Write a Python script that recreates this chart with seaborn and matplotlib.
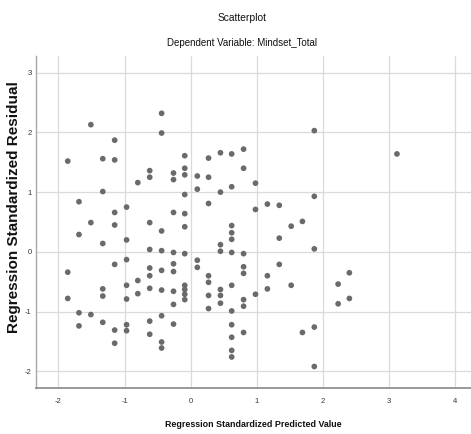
import numpy as np
import pandas as pd
import matplotlib
matplotlib.use("Agg")
import matplotlib.pyplot as plt
import seaborn as sns

# predicted value columns and the residuals
pred_cols = [-1.86, -1.69, -1.51, -1.33, -1.15, -0.97, -0.80, -0.62, -0.44, -0.26,
             -0.09, 0.10, 0.27, 0.45, 0.62, 0.80, 0.98, 1.16, 1.34, 1.52,
             1.69, 1.87, 2.23, 2.40, 3.12]
resid_cols = [
    [1.52, -0.34, -0.78],
    [0.84, 0.29, -1.02, -1.24],
    [2.13, 0.49, -1.05],
    [1.56, 1.01, 0.14, -0.62, -0.74, -1.18],
    [1.87, 1.54, 0.66, 0.45, -0.21, -1.31, -1.53],
    [0.75, 0.20, -0.13, -0.56, -0.79, -1.22, -1.32],
    [1.16, -0.48, -0.70],
    [1.36, 1.25, 0.49, 0.04, -0.27, -0.40, -0.61, -1.16, -1.38],
    [2.32, 1.99, 0.35, 0.02, -0.31, -0.64, -1.07, -1.51, -1.61],
    [1.32, 1.21, 0.66, -0.01, -0.20, -0.33, -0.66, -0.88, -1.21],
    [1.61, 1.40, 1.29, 0.96, 0.64, 0.42, -0.03, -0.56, -0.63, -0.71, -0.80],
    [1.27, 1.05, -0.14, -0.26],
    [1.57, 1.25, 0.81, -0.40, -0.51, -0.73, -0.95],
    [1.66, 1.00, 0.12, 0.01, -0.63, -0.73, -0.86],
    [1.64, 1.09, 0.44, 0.32, 0.21, -0.01, -0.56, -0.99, -1.22, -1.43, -1.65, -1.76],
    [1.72, 1.40, -0.03, -0.25, -0.36, -0.80, -0.91, -1.35],
    [1.15, 0.71, -0.71],
    [0.80, -0.40, -0.62],
    [0.78, 0.23, -0.21],
    [0.43, -0.56],
    [0.51, -1.35],
    [2.03, 0.93, 0.05, -1.26, -1.92],
    [-0.54, -0.87],
    [-0.35, -0.78],
    [1.64],
]
x_ticks = [-2, -1, 0, 1, 2, 3, 4]
y_ticks = [-2, -1, 0, 1, 2, 3]

rows = [(x, r) for x, col in zip(pred_cols, resid_cols) for r in col]
df = pd.DataFrame(rows, columns=["pred", "resid"])

sns.set_style("white")
plt.rcParams["font.family"] = ["Liberation Sans", "DejaVu Sans"]

fig = plt.figure(figsize=(4.71, 4.34), dpi=100)
ax = fig.add_axes([36 / 471, 1 - 388.3 / 434, 1 - 36 / 471, (388.3 - 56) / 434])

sns.scatterplot(data=df, x="pred", y="resid", ax=ax, color="#6a6a6a",
                s=17, edgecolor="none", zorder=3)

ax.set_xlim(-2.34, 4.24)
ax.set_ylim(-2.285, 3.28)
ax.set_xticks(x_ticks)
ax.set_yticks(y_ticks)
ax.set_xticklabels([str(t) for t in x_ticks], fontsize=5.5, color="#333333")
ax.set_yticklabels([str(t) for t in y_ticks], fontsize=5.5, color="#333333")
ax.tick_params(axis="x", length=0, pad=7)
ax.tick_params(axis="y", length=0, pad=3)
ax.grid(True, color="#dadada", lw=0.9)
ax.set_axisbelow(True)

for s in ["top", "right"]:
    ax.spines[s].set_visible(False)
ax.spines["left"].set_color("#a8a8a8")
ax.spines["bottom"].set_color("#888888")
ax.spines["left"].set_linewidth(1.0)
ax.spines["bottom"].set_linewidth(1.2)

ax.set_xlabel("Regression Standardized Predicted Value", fontsize=6.4,
              fontweight="bold", color="#111111", labelpad=11)
ax.set_ylabel("Regression Standardized Residual", fontsize=11,
              fontweight="bold", color="#111111")
ax.yaxis.set_label_coords(-15 / 435, 0.545)

fig.text(0.513, 1 - 18 / 434, "Scatterplot", ha="center", va="center",
         fontsize=7.4, color="#111111")
fig.text(0.513, 1 - 43 / 434, "Dependent Variable: Mindset_Total", ha="center",
         va="center", fontsize=7.0, color="#111111")

fig.savefig("out.png", dpi=100)
